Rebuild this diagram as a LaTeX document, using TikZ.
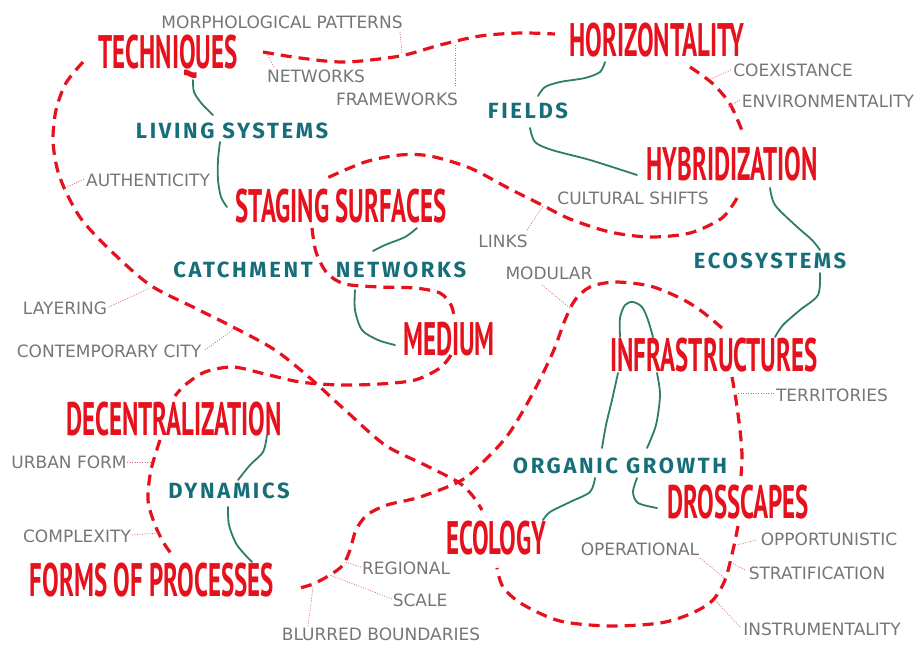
\documentclass[tikz,border=0pt]{standalone}
\usepackage{fontspec}
\setmainfont{DejaVu Sans}
\newfontfamily\redf[FakeStretch=0.53]{PT Sans}
\newfontfamily\tealf[LetterSpace=12]{Fira Sans}
\newfontfamily\grayf{DejaVu Sans}
\definecolor{cred}{HTML}{E5111C}
\definecolor{cteal}{HTML}{166F78}
\definecolor{cgreen}{HTML}{2E7D66}
\definecolor{cgray}{HTML}{767676}
\definecolor{clead}{HTML}{D9667A}
\tikzset{
  big/.style={text=cred, font=\redf\bfseries\fontsize{47}{47}\selectfont, inner sep=0pt},
  mid/.style={text=cteal, font=\tealf\bfseries\fontsize{22}{22}\selectfont, inner sep=0pt},
  small/.style={text=cgray, font=\grayf\fontsize{17}{17}\selectfont, inner sep=0pt},
  reddash/.style={draw=cred, line width=3.2pt, dash pattern=on 11pt off 7pt},
  greenline/.style={draw=cgreen, line width=1.8pt, line cap=round},
  leader/.style={draw=clead, line width=0.7pt, dash pattern=on 1pt off 1.5pt},
}
\begin{document}
\begin{tikzpicture}[x=1pt,y=-1pt]
\useasboundingbox[fill=white] (0,0) rectangle (920,646);
% red labels
\node[big] (tech) at (168,57) {TECHNIQUES};
\node[big] (hori) at (657,40) {HORIZONTALITY};
\node[big] (hybr) at (732,164) {HYBRIDIZATION};
\node[big] (stag) at (341,206) {STAGING SURFACES};
\node[big] (medi) at (449,339) {MEDIUM};
\node[big] (infr) at (714,355) {INFRASTRUCTURES};
\node[big] (dece) at (174,419) {DECENTRALIZATION};
\node[big] (form) at (152,580) {FORMS OF PROCESSES};
\node[big] (ecol) at (496,538) {ECOLOGY};
\node[big] (dros) at (738,502) {DROSSCAPES};
% teal labels
\node[mid] (livi) at (232,131) {LIVING SYSTEMS};
\node[mid] (fiel) at (528,111) {FIELDS};
\node[mid] (catc) at (243,270) {CATCHMENT};
\node[mid] (netw) at (401,270) {NETWORKS};
\node[mid] (ecos) at (770,261) {ECOSYSTEMS};
\node[mid] (dyna) at (229,491) {DYNAMICS};
\node[mid] (orga) at (620,466) {ORGANIC GROWTH};
% gray labels
\node[small] (morp) at (282,22) {MORPHOLOGICAL PATTERNS};
\node[small] (gnet) at (316,76) {NETWORKS};
\node[small] (fram) at (397,99) {FRAMEWORKS};
\node[small] (coex) at (793,70) {COEXISTANCE};
\node[small] (envi) at (828,101) {ENVIRONMENTALITY};
\node[small] (auth) at (148,180) {AUTHENTICITY};
\node[small] (cult) at (633,198) {CULTURAL SHIFTS};
\node[small] (link) at (503,241) {LINKS};
\node[small] (modu) at (549,273) {MODULAR};
\node[small] (laye) at (65,308) {LAYERING};
\node[small] (cont) at (109,351) {CONTEMPORARY CITY};
\node[small] (terr) at (832,395) {TERRITORIES};
\node[small] (urba) at (69,462) {URBAN FORM};
\node[small] (comp) at (77,536) {COMPLEXITY};
\node[small] (regi) at (406,568) {REGIONAL};
\node[small] (scal) at (420,600) {SCALE};
\node[small] (blur) at (381,634) {BLURRED BOUNDARIES};
\node[small] (oper) at (640,549) {OPERATIONAL};
\node[small] (oppo) at (829,539) {OPPORTUNISTIC};
\node[small] (stra) at (817,573) {STRATIFICATION};
\node[small] (inst) at (822,629) {INSTRUMENTALITY};
% red dashed paths
\path[reddash] plot[smooth] coordinates {(263,52) (300,58) (345,62) (400,56) (440,45) (480,36) (520,33) (555,34)};
\path[reddash] plot[smooth] coordinates {(690,67) (712,83) (730,104) (743,133)};
\path[reddash] plot[smooth] coordinates {(737,198) (722,218) (690,233) (650,237) (610,232) (570,219) (540,204) (510,189) (470,168) (430,156) (400,155) (365,162) (327,178)};
\path[reddash] plot[smooth] coordinates {(312,228) (316,252) (327,273) (345,284) (380,287) (415,288) (440,293) (451,305) (454,316)};
\path[reddash] plot[smooth] coordinates {(451,355) (440,368) (415,380) (380,384) (340,385) (300,382) (265,374) (233,367) (205,372) (185,385) (175,396)};
\path[reddash] plot[smooth] coordinates {(83,62) (66,83) (56,110) (53,140) (57,168) (66,192) (82,220) (110,250) (150,285) (195,308) (233,327) (275,350) (310,378) (345,410) (385,445) (425,465) (458,482) (472,495) (482,510)};
\path[reddash] plot[smooth] coordinates {(722,328) (700,310) (680,298) (650,286) (615,282) (590,287) (575,300) (565,320) (553,352) (533,393) (510,432) (490,455) (462,480) (420,497) (387,505) (367,515) (356,530) (350,550) (343,565) (330,575) (313,584) (296,589)};
\path[reddash] plot[smooth] coordinates {(732,377) (736,400) (740,430) (742,455) (741,476)};
\path[reddash] plot[smooth] coordinates {(738,526) (733,550) (725,580) (712,601) (690,614) (660,623) (610,626) (560,621) (522,604) (503,587) (497,568)};
\path[reddash] plot[smooth] coordinates {(160,440) (151,470) (148,500) (155,525) (165,545) (174,557)};
% green connectors
\path[greenline] plot[smooth] coordinates {(193,80) (194,92) (202,104) (213,115)};
\path[greenline] plot[smooth] coordinates {(220,142) (218,160) (218,180) (221,197) (227,207)};
\path[greenline] plot[smooth] coordinates {(605,62) (600,72) (585,78) (560,82) (545,87) (538,96)};
\path[greenline] plot[smooth] coordinates {(530,128) (535,142) (552,150) (590,160) (637,175)};
\path[greenline] plot[smooth] coordinates {(770,188) (775,205) (795,225) (812,240) (820,250)};
\path[greenline] plot[smooth] coordinates {(820,273) (818,295) (800,310) (783,325) (775,337)};
\path[greenline] plot[smooth] coordinates {(417,228) (405,237) (385,245) (373,251)};
\path[greenline] plot[smooth] coordinates {(355,290) (355,310) (362,330) (378,340) (395,345)};
\path[greenline] plot[smooth] coordinates {(267,435) (263,452) (250,465) (238,480)};
\path[greenline] plot[smooth] coordinates {(228,507) (229,525) (237,545) (252,562)};
\path[greenline] plot[smooth] coordinates {(620,337) (620,318) (625,305) (633,302) (642,307) (648,320) (653,337)};
\path[greenline] plot[smooth] coordinates {(618,373) (612,400) (606,425) (602,448)};
\path[greenline] plot[smooth] coordinates {(657,373) (660,395) (656,425) (647,448)};
\path[greenline] plot[smooth] coordinates {(595,478) (590,492) (570,502) (550,512) (543,520)};
\path[greenline] plot[smooth] coordinates {(637,478) (633,492) (638,503) (657,508)};
% leaders
\draw[leader] (400,32) -- (402,54);
\draw[leader] (274,67) -- (267,54);
\draw[leader] (455,86) -- (455,44);
\draw[leader] (731,70) -- (708,80);
\draw[leader] (740,100) -- (728,107);
\draw[leader] (84,179) -- (65,188);
\draw[leader] (527,230) -- (543,206);
\draw[leader] (542,285) -- (570,308);
\draw[leader] (109,307) -- (150,288);
\draw[leader] (205,350) -- (237,327);
\draw[leader] (774,393) -- (738,393);
\draw[leader] (127,462) -- (152,462);
\draw[leader] (132,535) -- (158,533);
\draw[leader] (361,567) -- (345,562);
\draw[leader] (392,599) -- (330,575);
\draw[leader] (308,626) -- (313,587);
\draw[leader] (700,558) -- (727,580);
\draw[leader] (756,540) -- (737,545);
\draw[leader] (745,570) -- (732,563);
\draw[leader] (740,627) -- (715,600);
\end{tikzpicture}
\end{document}
